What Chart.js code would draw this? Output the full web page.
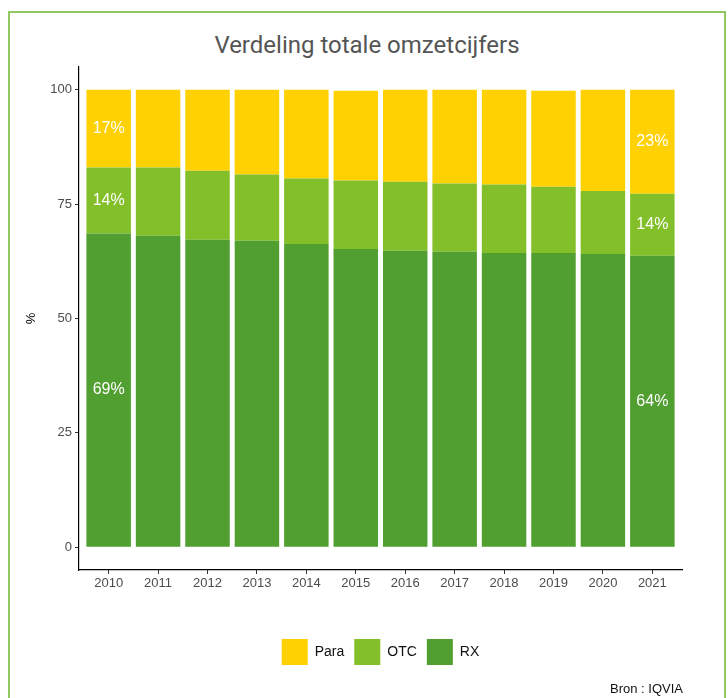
<!DOCTYPE html>
<html>
<head>
<meta charset="utf-8">
<script src="https://cdn.jsdelivr.net/npm/chart.js@4.4.0/dist/chart.umd.min.js"></script>
<style>
    body { margin: 0; background: #fff; }
    #wrap { position: relative; width: 728px; height: 698px; overflow: hidden; }
    #frame { position: absolute; left: 8px; top: 11px; width: 714px; height: 720px; border: 2px solid #92c95f; }
    #title { position: absolute; left: 0; width: 734px; top: 31px; text-align: center; font: 24px Roboto, sans-serif; color: #555; }
    #src { position: absolute; left: 560px; width: 123px; top: 681px; text-align: right; font: 13px "Liberation Sans", Arial, sans-serif; color: #111; }
    canvas { position: absolute; left: 0; top: 0; }
</style>
</head>
<body>
<div id="wrap">
    <div id="frame"></div>
    <div id="title">Verdeling totale omzetcijfers</div>
    <canvas id="shareChart" width="728" height="698"></canvas>
    <div id="src">Bron : IQVIA</div>
</div>
<script>
// ===== DATA =====
const years = ['2010', '2011', '2012', '2013', '2014', '2015', '2016', '2017', '2018', '2019', '2020', '2021'];
const rxShare = [68.6, 68.1, 67.2, 67.0, 66.3, 65.2, 64.8, 64.6, 64.3, 64.3, 64.1, 63.7];
const otcShare = [14.4, 14.9, 15.1, 14.5, 14.3, 15.0, 15.1, 14.9, 15.0, 14.5, 13.8, 13.6];
const paraShare = [17.0, 17.0, 17.7, 18.5, 19.4, 19.6, 20.1, 20.5, 20.7, 21.0, 22.1, 22.7];
const yTicks = [0, 25, 50, 75, 100];
const labelledYears = ['2010', '2021'];

const toPoints = arr => arr.map((v, i) => ({ x: i, y: v }));

// ---- percentage labels on first / last bar ----
const barLabels = {
    id: 'barLabels',
    afterDatasetsDraw(chart) {
        const ctx = chart.ctx;
        ctx.save();
        ctx.fillStyle = '#fff';
        ctx.font = '16px "Liberation Sans", Arial, sans-serif';
        ctx.textAlign = 'center';
        ctx.textBaseline = 'middle';
        chart.data.datasets.forEach((ds, di) => {
            const meta = chart.getDatasetMeta(di);
            meta.data.forEach((bar, i) => {
                if (!labelledYears.includes(years[i])) return;
                const v = ds.data[i].y;
                ctx.fillText(Math.round(v) + '%', bar.x, (bar.y + bar.base) / 2);
            });
        });
        ctx.restore();
    }
};

const axisFont = { family: '"Liberation Sans", Arial, sans-serif', size: 13 };

new Chart(document.getElementById('shareChart'), {
    type: 'bar',
    data: {
        datasets: [
            { label: 'RX', data: toPoints(rxShare), backgroundColor: '#519e31' },
            { label: 'OTC', data: toPoints(otcShare), backgroundColor: '#83bf29' },
            { label: 'Para', data: toPoints(paraShare), backgroundColor: '#ffd100' },
        ]
    },
    options: {
        responsive: false,
        animation: false,
        barPercentage: 0.9,
        categoryPercentage: 1,
        layout: { padding: { left: 20, right: 46, top: 67, bottom: 23 } },
        plugins: {
            legend: {
                position: 'bottom',
                fullSize: false,
                reverse: true,
                labels: {
                    boxWidth: 26, boxHeight: 26, padding: 10,
                    color: '#111',
                    font: { family: '"Liberation Sans", Arial, sans-serif', size: 14 }
                }
            },
            tooltip: { enabled: false }
        },
        scales: {
            x: {
                type: 'linear',
                stacked: true,
                offset: false,
                min: -0.6, max: 11.6,
                afterBuildTicks: s => { s.ticks = years.map((_, i) => ({ value: i })); },
                afterFit: s => { s.height = 59; },
                ticks: { color: '#4d4d4d', font: axisFont, padding: 2, callback: v => years[v] },
                grid: { offset: false, drawOnChartArea: false, drawTicks: true, tickLength: 4, color: '#333' },
                border: { display: true, color: '#000', width: 1.2 }
            },
            y: {
                stacked: true,
                min: -5, max: 105,
                afterBuildTicks: s => { s.ticks = yTicks.map(v => ({ value: v })); },
                afterFit: s => { s.width = 59; },
                ticks: { color: '#4d4d4d', font: axisFont, padding: 3 },
                grid: { drawOnChartArea: false, drawTicks: true, tickLength: 4, color: '#333' },
                border: { display: true, color: '#000', width: 1.2 },
                title: { display: true, text: '%', color: '#000', font: axisFont, padding: 4 }
            }
        }
    },
    plugins: [barLabels]
});
</script>
</body>
</html>
